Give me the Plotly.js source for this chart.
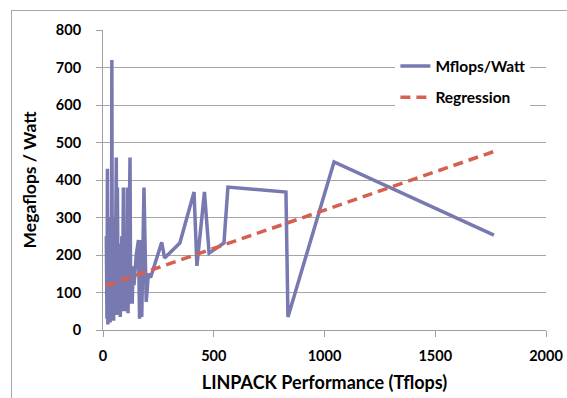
<!DOCTYPE html>
<html>
<head>
<meta charset="utf-8">
<script src="https://cdn.plot.ly/plotly-3.0.1.min.js"></script>
<style>
html,body{margin:0;padding:0;background:#fff;overflow:hidden;}
#chart{width:567px;height:398px;}
#frame{position:absolute;left:11px;top:10px;width:620px;height:420px;border:1px solid #a6a6a6;pointer-events:none;}
</style>
</head>
<body>
<div id="chart"></div>
<div id="frame"></div>
<script>
// Performance (Tflops) and efficiency (Mflops/Watt), in list order
const perfTflops = [15, 17, 18, 20, 22, 24, 25, 27, 28, 30, 32, 34, 35, 38, 40, 42, 44, 45, 48, 50,
  52, 55, 58, 60, 62, 64, 65, 68, 70, 72, 75, 78, 80, 82, 85, 88, 90, 92, 95, 98,
  100, 103, 105, 108, 110, 113, 116, 118, 122, 125, 128, 132, 136, 140, 150,
  160, 165, 170, 175, 185, 195, 205, 215, 265, 278, 347, 411, 424, 458, 479, 546, 564, 826, 835, 1043, 1765];
const mflopsPerWatt = [250, 120, 30, 430, 15, 210, 300, 60, 280, 200, 20, 190, 250, 40, 720, 30, 260, 180, 25, 300,
  100, 60, 250, 460, 40, 300, 380, 90, 210, 60, 230, 35, 170, 60, 250, 50, 200, 380, 60, 180,
  230, 50, 200, 120, 380, 45, 160, 240, 460, 70, 150, 70, 170, 120, 200,
  240, 30, 240, 35, 380, 75, 150, 140, 234, 192, 232, 368, 171, 368, 205, 232, 381, 368, 35, 448, 253];
// Regression line endpoints
const regX = [12, 1765];
const regY = [118, 476];

const xTicks = [0, 500, 1000, 1500, 2000];
const yTicks = [0, 100, 200, 300, 400, 500, 600, 700, 800];

const fontFam = 'Lato, "Open Sans", sans-serif';

const traces = [
  {x: perfTflops, y: mflopsPerWatt, type: 'scatter', mode: 'lines', name: 'Mflops/Watt',
   legendgroup: 'a', line: {color: '#7779b0', width: 3.5}},
  {x: regX, y: regY, type: 'scatter', mode: 'lines', name: 'Regression',
   legendgroup: 'b', line: {color: '#d6604f', width: 3.5, dash: '10px,6px'}}
];

const layout = {
  width: 567, height: 398,
  margin: {l: 103, r: 21, t: 30, b: 68},
  paper_bgcolor: '#fff', plot_bgcolor: '#fff',
  font: {family: fontFam, color: '#000', size: 14, weight: 'bold'},
  showlegend: true,
  legend: {x: 0.66, y: 0.935, xanchor: 'left', yanchor: 'top', bgcolor: '#fff',
    font: {family: fontFam, size: 15.5, color: '#000', weight: 'bold'}, tracegroupgap: 8,
    itemwidth: 30},
  xaxis: {range: [0, 2000], tickvals: xTicks, ticktext: xTicks.map(String),
    showgrid: false, zeroline: false, showline: true, linecolor: '#a0a0a0', linewidth: 1,
    ticks: 'outside', ticklen: 6, tickcolor: '#a0a0a0', ticklabelstandoff: 7,
    tickfont: {family: fontFam, size: 14.5, weight: 'bold'},
    title: {text: 'LINPACK Performance (Tflops)', standoff: 12,
      font: {family: fontFam, size: 18, weight: 'bold'}}},
  yaxis: {range: [0, 800], tickvals: yTicks, ticktext: yTicks.map(String),
    showgrid: true, gridcolor: '#a6a6a6', gridwidth: 1, zeroline: false,
    showline: true, linecolor: '#a0a0a0', linewidth: 1,
    ticks: 'outside', ticklen: 6, tickcolor: '#a0a0a0', ticklabelstandoff: 12,
    tickfont: {family: fontFam, size: 14.5, weight: 'bold'},
    title: {text: 'Megaflops / Watt', standoff: 14,
      font: {family: fontFam, size: 17.5, weight: 'bold'}}}
};

Plotly.newPlot('chart', traces, layout, {displayModeBar: false, staticPlot: true});
</script>
</body>
</html>
